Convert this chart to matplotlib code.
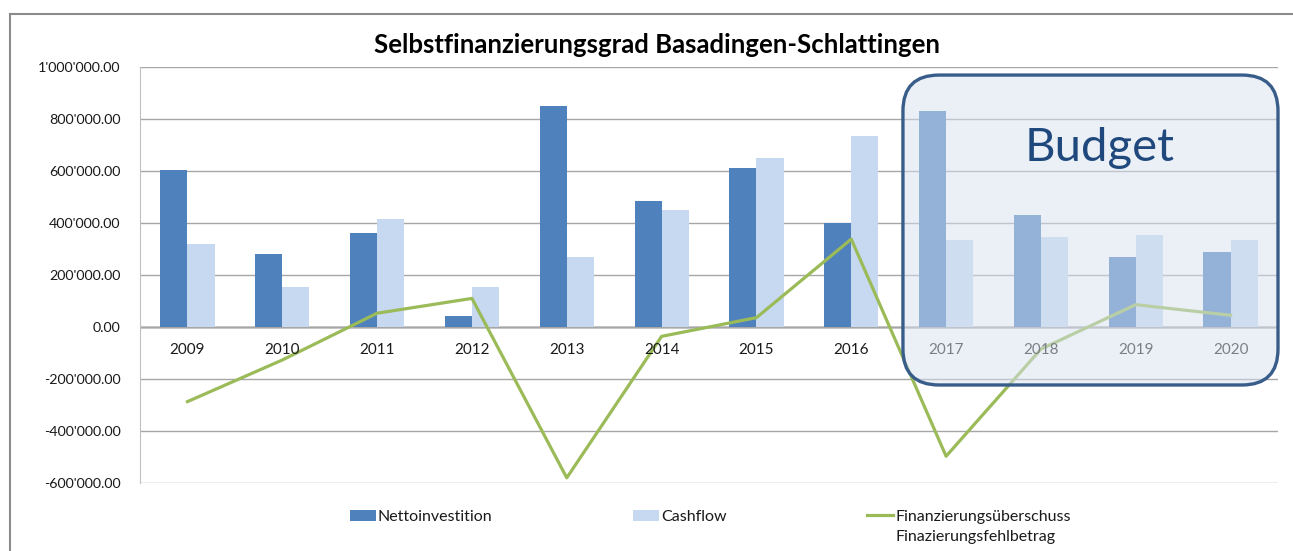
import numpy as np
import matplotlib
matplotlib.use("Agg")
import matplotlib.pyplot as plt
from matplotlib.patches import FancyBboxPatch
from matplotlib.lines import Line2D
from matplotlib.transforms import IdentityTransform
from matplotlib.ticker import FuncFormatter

plt.rcParams['font.family'] = ['Lato', 'DejaVu Sans']

# Werte (CHF)
jahre = ['2009', '2010', '2011', '2012', '2013', '2014', '2015', '2016',
         '2017', '2018', '2019', '2020']
nettoinvestition = [604000, 281000, 362000, 42000, 850000, 485000, 612000, 400000,
                    832000, 431000, 269000, 290000]
cashflow = [319000, 154000, 415000, 154000, 269000, 450000, 650000, 736000,
            335000, 346000, 355000, 335000]
ueberschuss = [-287000, -127000, 53000, 110000, -580000, -36000, 36000, 338000,
               -497000, -85000, 86000, 45000]
budget_ab = 8  # index von 2017

farbe_netto = '#4F81BD'
farbe_cash = '#C6D9F1'
farbe_linie = '#9BBB59'
textfarbe = '#1A1A1A'

fig = plt.figure(figsize=(12.93, 5.51), dpi=100)
ax = fig.add_axes([0.1083, 0.1234, 0.8801, 0.755])

x = np.arange(len(jahre))
b = 1 / 3.5
h1 = ax.bar(x - b / 2, nettoinvestition, width=b, color=farbe_netto, zorder=2,
            label='Nettoinvestition')
h2 = ax.bar(x + b / 2, cashflow, width=b, color=farbe_cash, zorder=2, label='Cashflow')
h3, = ax.plot(x, ueberschuss, color=farbe_linie, lw=2.3, zorder=3,
              label='Finanzierungsüberschuss')

ax.set_xlim(-0.5, len(jahre) - 0.5)
ax.set_ylim(-600000, 1000000)
ax.set_yticks(np.arange(-600000, 1000001, 200000))
ax.yaxis.set_major_formatter(FuncFormatter(lambda v, p: f"{v:,.2f}".replace(',', "'")))
ax.tick_params(axis='y', length=0, labelsize=10.3, colors=textfarbe, pad=14)
ax.grid(axis='y', color='#A6A6A6', lw=1, zorder=0)
ax.axhline(0, color='#C8C8C8', lw=2, zorder=1)
ax.set_xticks([])
for s in ['top', 'right', 'bottom']:
    ax.spines[s].set_visible(False)
ax.spines['left'].set_color('#C0C0C0')

# Jahreszahlen unter der Nulllinie
for i, j in enumerate(jahre):
    ax.annotate(j, (i, 0), xytext=(0, -23), textcoords='offset pixels',
                ha='center', va='center', fontsize=11, color=textfarbe)

fig.text(0.508, 0.918, 'Selbstfinanzierungsgrad Basadingen-Schlattingen',
         ha='center', va='center', fontsize=18.5, fontweight='bold')

leg = fig.legend(handles=[h1, h2, h3], loc='upper left', bbox_to_anchor=(350 / 1293, 0.075),
                 ncol=3, frameon=False, fontsize=11.5, columnspacing=8.8,
                 handlelength=1.6, handletextpad=0.15, borderpad=0, borderaxespad=0)
for t in leg.get_texts():
    t.set_color(textfarbe)

# zweite Zeile der Linien-Legende
fig.canvas.draw()
bb = leg.get_texts()[2].get_window_extent()
fig.text(bb.x0 / fig.bbox.width, (bb.y0 - 20) / fig.bbox.height, 'Finazierungsfehlbetrag',
         ha='left', va='bottom', fontsize=11.5, color=textfarbe)

# Budget-Kasten ueber 2017-2020
x0, y0 = ax.transData.transform((budget_ab - 0.455, -223000))
x1, y1 = ax.transData.transform((len(jahre) - 0.5, 969000))
box = FancyBboxPatch((x0, y0), x1 - x0, y1 - y0,
                     boxstyle='round,pad=0,rounding_size=36',
                     transform=IdentityTransform(), facecolor=(0.847, 0.886, 0.945, 0.51),
                     edgecolor='#385D8A', lw=2.4)
fig.add_artist(box)
tx, ty = ax.transData.transform((9.62, 690000))
fig.text(tx / fig.bbox.width, ty / fig.bbox.height, 'Budget',
         ha='center', va='center', fontsize=34, color='#1F497D')

# Rahmen des Diagramms
fig.add_artist(Line2D([10 / 1293, 1.0], [1 - 14 / 551, 1 - 14 / 551],
                      transform=fig.transFigure, color='#8C8C8C', lw=1.5))
fig.add_artist(Line2D([10 / 1293, 10 / 1293], [0, 1 - 14 / 551],
                      transform=fig.transFigure, color='#8C8C8C', lw=1.5))

fig.savefig('out.png', dpi=100)
